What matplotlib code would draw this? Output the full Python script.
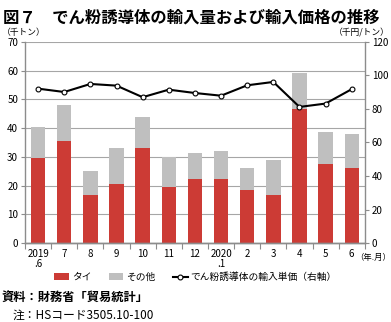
import numpy as np
import matplotlib.pyplot as plt

plt.rcParams['font.family'] = ['Noto Sans CJK JP', 'DejaVu Sans']

months = ['2019\n.6', '7', '8', '9', '10', '11', '12', '2020\n.1', '2', '3', '4', '5', '6']
thai = [29.7, 35.5, 16.6, 20.4, 33.0, 19.4, 22.2, 22.2, 18.5, 16.8, 46.8, 27.4, 26.1]
total = [40.5, 48.0, 25.2, 33.2, 44.0, 29.9, 31.3, 32.2, 26.0, 28.9, 59.3, 38.7, 38.0]
price = [92.1, 90.1, 94.9, 93.9, 87.0, 91.5, 89.5, 87.9, 94.1, 96.1, 81.2, 83.2, 91.8]
other = [t - r for t, r in zip(total, thai)]

red = '#cc3b35'
gray = '#bfbfbf'
axc = '#8c8c8c'

fig = plt.figure(figsize=(3.91, 3.22), dpi=100)
ax = fig.add_axes([0.064, 0.245, 0.869, 0.625])
x = np.arange(len(months))

ax.bar(x, thai, width=0.55, color=red, zorder=2, label='タイ')
ax.bar(x, other, width=0.55, bottom=thai, color=gray, zorder=2, label='その他')
ax.set_ylim(0, 70)
ax.set_yticks(range(0, 71, 10))
ax.set_xlim(-0.5, len(months) - 0.5)
ax.yaxis.grid(True, color='#a6a6a6', lw=0.8, zorder=0)
ax.set_axisbelow(True)

ax2 = ax.twinx()
ax2.plot(x, price, color='black', lw=1.5, marker='o', ms=3.5, mfc='white', mec='black', mew=0.8,
         zorder=3, label='でん粉誘導体の輸入単価（右軸）')
ax2.set_ylim(0, 120)
ax2.set_yticks(range(0, 121, 20))

for a in (ax, ax2):
    a.spines['top'].set_visible(False)
    for s in ('left', 'right', 'bottom'):
        a.spines[s].set_color(axc)
        a.spines[s].set_linewidth(1.0)
    a.tick_params(axis='y', labelsize=7, length=3, color=axc, pad=2)
ax.spines['right'].set_visible(False)
ax2.spines['left'].set_visible(False)

ax.set_xticks(np.arange(-0.5, len(months), 1))
ax.set_xticklabels([])
ax.set_xticks(x, minor=True)
ax.set_xticklabels(months, minor=True, fontsize=7, linespacing=1.0)
ax.tick_params(axis='x', which='major', length=4, color=axc)
ax.tick_params(axis='x', which='minor', length=0, pad=4)
for lbl in ax.get_xticklabels(minor=True):
    lbl.set_verticalalignment('top')

fig.text(0.008, 0.975, '図７　でん粉誘導体の輸入量および輸入価格の推移', fontsize=11.8,
         fontweight='bold', va='top', ha='left')
fig.text(0.005, 0.9, '（千トン）', fontsize=6.3, va='center', ha='left')
fig.text(0.997, 0.9, '（千円/トン）', fontsize=6.3, va='center', ha='right')
fig.text(1.0, 0.2, '（年.月）', fontsize=6, va='center', ha='right')

h1, l1 = ax.get_legend_handles_labels()
h2, l2 = ax2.get_legend_handles_labels()
fig.legend(h1 + h2, l1 + l2, loc='center', bbox_to_anchor=(0.5, 0.14), ncol=3, frameon=False,
           fontsize=7, handlelength=1.5, handletextpad=0.3, columnspacing=1.8)

fig.text(0.005, 0.077, '資料：財務省「貿易統計」', fontsize=8.8, fontweight='bold', va='center', ha='left')
fig.text(0.033, 0.022, '注：HSコード3505.10-100', fontsize=8.5, va='center', ha='left')

fig.savefig('out.png', dpi=100)
